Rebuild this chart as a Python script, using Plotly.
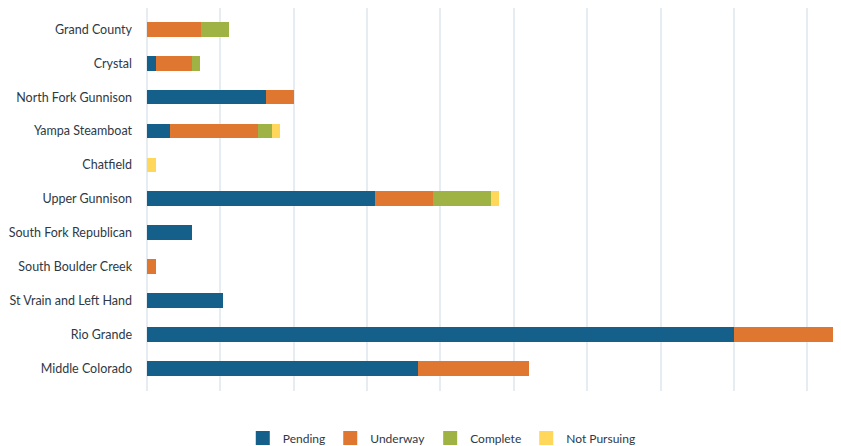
import plotly.graph_objects as go

categories = ["Grand County", "Crystal", "North Fork Gunnison", "Yampa Steamboat",
              "Chatfield", "Upper Gunnison", "South Fork Republican",
              "South Boulder Creek", "St Vrain and Left Hand", "Rio Grande",
              "Middle Colorado"]
pending =      [0,   1.2, 16.2, 3.2, 0,   31.1, 6.2, 0,   10.4, 80.0, 37.0]
underway =     [7.4, 4.9, 3.9, 11.9, 0,   7.9,  0,   1.2, 0,    13.8, 15.1]
complete =     [3.8, 1.15, 0,  1.95, 0,   7.9,  0,   0,   0,    2.0,  0]
not_pursuing = [0,   0,   0,   1.1,  1.2, 1.1,  0,   0,   0,    0,    0]

series = [("Pending", pending, "#14608a"),
          ("Underway", underway, "#df7731"),
          ("Complete", complete, "#9fb244"),
          ("Not Pursuing", not_pursuing, "#ffd75b")]

fig = go.Figure()
for name, vals, col in series:
    fig.add_trace(go.Bar(y=categories, x=vals, orientation="h", name=name,
                         marker=dict(color=col, line=dict(width=0)),
                         showlegend=False))
for name, vals, col in series:
    fig.add_trace(go.Scatter(x=[None], y=[None], mode="markers", name=name,
                             marker=dict(symbol="square", size=14, color=col)))

font_color = "#2e3946"
fig.update_layout(
    width=833, height=438,
    margin=dict(l=139, r=0, t=0, b=55),
    barmode="stack", bargap=0.567,
    plot_bgcolor="white", paper_bgcolor="white",
    font=dict(family="Lato, 'Open Sans', sans-serif", size=12, color=font_color),
    legend=dict(orientation="h", x=0.138, xanchor="left",
                yref="container", y=8 / 438, yanchor="middle",
                font=dict(size=12, color=font_color), itemwidth=30,
                traceorder="normal"),
)
fig.update_xaxes(range=[0, 94.6], dtick=10, showticklabels=False,
                 showgrid=True, gridcolor="#e6edf2", gridwidth=2,
                 zeroline=True, zerolinecolor="#e6edf2", zerolinewidth=2,
                 showline=False)
fig.update_yaxes(range=[10.67, -0.63], showgrid=False, showline=False,
                 ticklabelstandoff=14, tickfont=dict(size=12.5, color=font_color))

fig.write_html("out.html")
